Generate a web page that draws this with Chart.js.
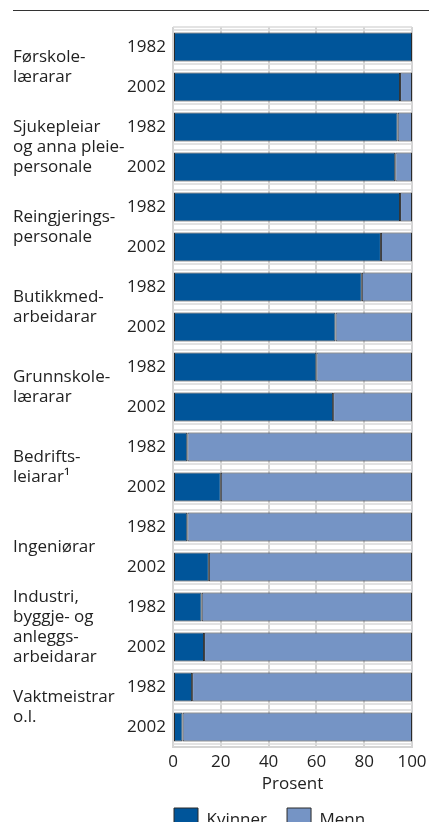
<!DOCTYPE html>
<html>
<head>
<meta charset="utf-8">
<script src="https://cdn.jsdelivr.net/npm/chart.js@4.4.0/dist/chart.umd.min.js"></script>
<style>
  html, body { margin: 0; padding: 0; background: #fff; }
  #wrap { width: 429px; height: 828px; }
</style>
</head>
<body>
<div id="wrap"><canvas id="chart"></canvas></div>
<script>
const occupations = [
  ['Førskole-', 'lærarar'],
  ['Sjukepleiar', 'og anna pleie-', 'personale'],
  ['Reingjerings-', 'personale'],
  ['Butikkmed-', 'arbeidarar'],
  ['Grunnskole-', 'lærarar'],
  ['Bedrifts-', 'leiarar¹'],
  ['Ingeniørar'],
  ['Industri,', 'byggje- og', 'anleggs-', 'arbeidarar'],
  ['Vaktmeistrar', 'o.l.']
];
const years = ['1982', '2002'];
// share of women / men, percent, one value per occupation and year
const kvinner = [100, 95, 94, 93, 95, 87, 79, 68, 60, 67, 6, 20, 6, 15, 12, 13, 8, 4];
const menn = [0, 5, 6, 7, 5, 13, 21, 32, 40, 33, 94, 80, 94, 85, 88, 87, 92, 96];

const barLabels = occupations.flatMap(() => years);

Chart.defaults.font.family = "'Open Sans', sans-serif";
Chart.defaults.font.size = 17;
Chart.defaults.color = '#222';

const GRID = '#d4d4d4';

// light lines just above and below each bar, plus the top rule
const decorations = {
  id: 'decorations',
  beforeDraw(chart) {
    const ctx = chart.ctx;
    ctx.save();
    ctx.strokeStyle = '#333';
    ctx.lineWidth = 1;
    ctx.beginPath();
    ctx.moveTo(13, 10.5);
    ctx.lineTo(chart.width, 10.5);
    ctx.stroke();
    ctx.restore();
  },
  beforeDatasetsDraw(chart) {
    const { ctx, chartArea: a } = chart;
    const bars = chart.getDatasetMeta(0).data;
    ctx.save();
    ctx.strokeStyle = '#dadada';
    ctx.lineWidth = 1.5;
    ctx.beginPath();
    bars.forEach(b => {
      const off = b.height / 2 + 2.5;
      [b.y - off, b.y + off].forEach(y => {
        ctx.moveTo(a.left, y);
        ctx.lineTo(a.right, y);
      });
    });
    ctx.moveTo(a.left, a.top);
    ctx.lineTo(a.right, a.top);
    ctx.stroke();
    ctx.restore();
  },
  afterLayout(chart) {
    // legend sits under the plot, first box at the plot's left edge
    const lg = chart.legend;
    const dx = chart.chartArea.left + 1 - 20 - lg.left;
    const dy = 788 - lg.top;
    lg.left += dx; lg.right += dx;
    lg.top += dy; lg.bottom += dy;
  }
};

new Chart(document.getElementById('chart'), {
  type: 'bar',
  data: {
    labels: barLabels,
    datasets: [
      {
        label: 'Kvinner',
        data: kvinner,
        backgroundColor: '#00559a',
        borderColor: '#2a2a2a',
        borderWidth: 1,
        borderSkipped: false
      },
      {
        label: 'Menn',
        data: menn,
        backgroundColor: '#7594c5',
        borderColor: '#2a2a2a',
        borderWidth: 1,
        borderSkipped: false
      }
    ]
  },
  options: {
    indexAxis: 'y',
    responsive: true,
    maintainAspectRatio: false,
    animation: false,
    layout: { padding: { left: 13, right: 17, top: 27, bottom: 0 } },
    datasets: { bar: { categoryPercentage: 1, barPercentage: 0.725 } },
    scales: {
      x: {
        stacked: true,
        min: 0,
        max: 100,
        ticks: { stepSize: 20, padding: 5 },
        grid: { color: GRID, lineWidth: 2, drawTicks: false },
        border: { display: true, color: GRID, width: 2 },
        title: { display: true, text: 'Prosent', padding: { top: 2, bottom: 0 } },
        afterFit: s => {
          s.height = 47;
          s.paddingLeft = 0;
          s.paddingRight = 0;
        }
      },
      y: {
        stacked: true,
        weight: 1,
        grid: { display: false, drawTicks: false },
        border: { display: false },
        ticks: { padding: 7, autoSkip: false },
        afterFit: s => { s.width = 46; }
      },
      yg: {
        type: 'category',
        labels: occupations,
        position: 'left',
        weight: 2,
        offset: true,
        grid: { display: false, drawTicks: false },
        border: { display: false },
        ticks: { crossAlign: 'far', autoSkip: false, padding: 0, font: { size: 17, lineHeight: 20 / 17 } },
        afterFit: s => { s.width = 114; }
      }
    },
    plugins: {
      legend: {
        position: 'bottom',
        align: 'start',
        fullSize: false,
        maxHeight: 34,
        labels: { boxWidth: 24, boxHeight: 24, padding: 20 }
      },
      tooltip: { enabled: false }
    }
  },
  plugins: [decorations]
});
</script>
</body>
</html>
